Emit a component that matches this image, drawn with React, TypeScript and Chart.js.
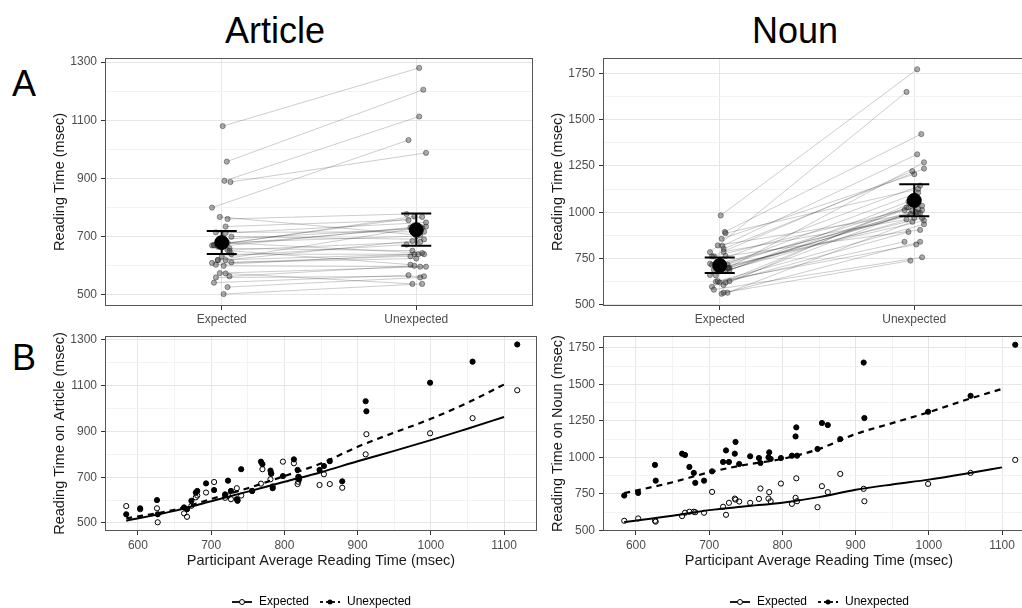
import React, { useEffect, useRef } from "react";
import { Chart, registerables } from "chart.js";

Chart.register(...registerables);

// ---------- data ----------
const conditions = ["Expected", "Unexpected"];

// participant average reading time (msec)
const avgRT = [584, 603, 626, 627, 663, 667, 673, 679, 681, 693, 704, 719, 723, 727, 735, 736, 741, 756, 768, 770, 781, 782, 784, 798, 813, 818, 819, 820, 848, 854, 862, 879, 911, 912, 999, 1057, 1118];

const articleExpected = [574, 560, 564, 503, 542, 527, 575, 612, 620, 633, 679, 610, 620, 604, 652, 600, 620, 640, 672, 735, 691, 715, 660, 768, 761, 670, 680, 700, 666, 713, 670, 654, 800, 888, 892, 958, 1080];
const articleUnexpected = [538, 564, 600, 538, 568, 560, 597, 633, 640, 673, 644, 625, 685, 640, 604, 597, 735, 640, 768, 757, 729, 717, 652, 705, 778, 732, 702, 691, 732, 749, 770, 682, 1032, 988, 1113, 1205, 1280];

const nounExpected = [566, 582, 566, 560, 598, 621, 628, 628, 625, 621, 764, 662, 607, 689, 718, 711, 698, 689, 716, 787, 718, 762, 700, 821, 682, 723, 857, 700, 659, 803, 762, 887, 785, 700, 819, 894, 983];
const nounUnexpected = [739, 757, 949, 841, 1026, 1017, 935, 894, 826, 841, 905, 969, 1048, 969, 1026, 1106, 955, 1008, 996, 962, 1001, 1035, 990, 996, 1012, 1144, 1206, 1012, 1058, 1236, 1222, 1126, 1650, 1270, 1313, 1422, 1772];

// horizontal jitter of the points in panel A (category units)
const jitterExpected = [0.02, -0.03, 0.04, 0.01, -0.04, 0.03, -0.01, 0.05, -0.02, 0.0, 0.03, -0.05, 0.02, -0.03, 0.04, 0.01, -0.02, 0.05, -0.04, 0.02, 0.0, -0.03, 0.04, -0.01, 0.03, -0.05, 0.01, 0.05, -0.02, 0.02, -0.04, 0.03, -0.05, 0.045, 0.014, 0.026, 0.005];
const jitterUnexpected = [-0.02, 0.04, -0.01, 0.03, -0.04, 0.02, 0.05, -0.03, 0.01, -0.05, 0.03, 0.0, -0.02, 0.04, -0.03, 0.02, 0.05, -0.01, 0.03, -0.04, 0.01, 0.04, -0.02, 0.02, -0.05, 0.03, 0.0, 0.04, -0.03, 0.05, -0.01, 0.02, -0.04, 0.05, 0.015, 0.036, 0.015];

// condition means and error bars (panel A)
const articleMean = [680, 724];
const articleLow = [641, 669];
const articleHigh = [720, 780];
const nounMean = [713, 1064];
const nounLow = [672, 978];
const nounHigh = [756, 1152];

// smoothed fits (panel B)
const fitX = [584, 650, 700, 750, 800, 850, 900, 950, 1000, 1050, 1100];
const articleFitExpected = [510, 553, 595, 637, 680, 722, 770, 815, 862, 912, 963];
const articleFitUnexpected = [520, 558, 605, 652, 705, 760, 833, 895, 955, 1025, 1105];
const nounFitExpected = [557, 600, 639, 665, 690, 728, 778, 815, 848, 888, 932];
const nounFitUnexpected = [755, 830, 898, 950, 990, 1058, 1160, 1235, 1310, 1393, 1470];

// ticks and axis limits
const articleYTicks = [500, 700, 900, 1100, 1300];
const nounYTicks = [500, 750, 1000, 1250, 1500, 1750];
const avgRTTicks = [600, 700, 800, 900, 1000, 1100];
const articleARange = [462, 1314];
const nounARange = [494, 1833];
const articleBRange = [465, 1317];
const nounBRange = [496, 1832];
const avgRTRange = [555, 1145];
const categoryRange = [-0.6, 1.6];

// ---------- styling ----------
const FONT = "'Liberation Sans', Arial, Helvetica, sans-serif";
const TICK_COLOR = "#4d4d4d";
const TITLE_COLOR = "#1a1a1a";
const GRID_MAJOR = "#e6e6e6";
const GRID_MINOR = "#f3f3f3";
const YW = 58;

function withMinor(majors: number[], range: number[]) {
  const step = majors[1] - majors[0];
  const vals: number[] = [];
  majors.forEach((m) => vals.push(m - step / 2, m));
  vals.push(majors[majors.length - 1] + step / 2);
  return vals.filter((v) => v >= range[0] && v <= range[1]);
}

function numScale(axis: "x" | "y", range: number[], majors: number[], title: string | null, opts: any) {
  const all = withMinor(majors, range);
  const isMajor = (v: any) => majors.includes(v);
  return {
    type: "linear",
    min: range[0],
    max: range[1],
    bounds: "data",
    afterBuildTicks: (s: any) => {
      s.ticks = all.map((v) => ({ value: v }));
    },
    afterFit: (s: any) => {
      if (axis === "y") s.width = YW;
      else s.height = opts.height;
    },
    ticks: {
      autoSkip: false,
      maxRotation: 0,
      padding: opts.tickPad,
      color: TICK_COLOR,
      font: { size: 12, family: FONT },
      callback: (v: any) => (isMajor(v) ? String(v) : ""),
    },
    grid: {
      color: (c: any) => (c.tick && isMajor(c.tick.value) ? GRID_MAJOR : GRID_MINOR),
      lineWidth: 1,
      tickLength: 4,
      tickWidth: 1,
      tickColor: (c: any) => (c.tick && isMajor(c.tick.value) ? "#333333" : "rgba(0,0,0,0)"),
    },
    border: { display: false },
    title: title
      ? {
          display: true,
          text: title,
          color: TITLE_COLOR,
          font: { size: 14.5, family: FONT },
          padding: opts.titlePad || { top: 4, bottom: 4 },
        }
      : { display: false },
  };
}

function categoryScale() {
  return {
    type: "linear",
    min: categoryRange[0],
    max: categoryRange[1],
    bounds: "data",
    afterBuildTicks: (s: any) => {
      s.ticks = conditions.map((_, i) => ({ value: i }));
    },
    afterFit: (s: any) => {
      s.height = 24;
    },
    ticks: {
      autoSkip: false,
      maxRotation: 0,
      padding: 2,
      color: TICK_COLOR,
      font: { size: 12, family: FONT },
      callback: (v: any) => conditions[Math.round(v)] ?? "",
    },
    grid: { color: GRID_MAJOR, lineWidth: 1, tickLength: 4, tickWidth: 1, tickColor: "#333333" },
    border: { display: false },
  };
}

const borderPlugin = {
  id: "panelBorder",
  afterDraw(chart: any) {
    const { ctx, chartArea: a } = chart;
    ctx.save();
    ctx.strokeStyle = "#555555";
    ctx.lineWidth = 1;
    ctx.strokeRect(Math.round(a.left) + 0.5, Math.round(a.top) + 0.5, Math.round(a.right - a.left) - 1, Math.round(a.bottom - a.top) - 1);
    ctx.restore();
  },
};

function errorBarPlugin(low: number[], high: number[]) {
  return {
    id: "errorBars",
    afterDatasetsDraw(chart: any) {
      const { ctx } = chart;
      const x = chart.scales.x;
      const y = chart.scales.y;
      ctx.save();
      ctx.strokeStyle = "#000";
      ctx.lineWidth = 2;
      low.forEach((lo, i) => {
        const px = x.getPixelForValue(i);
        const top = y.getPixelForValue(high[i]);
        const bot = y.getPixelForValue(lo);
        ctx.beginPath();
        ctx.moveTo(px, top);
        ctx.lineTo(px, bot);
        ctx.moveTo(px - 15, top);
        ctx.lineTo(px + 15, top);
        ctx.moveTo(px - 15, bot);
        ctx.lineTo(px + 15, bot);
        ctx.stroke();
      });
      ctx.restore();
    },
  };
}

function pairedConfig(exp: number[], unexp: number[], mean: number[], low: number[], high: number[], yRange: number[], yTicks: number[]) {
  const lines = exp.map((e, i) => ({
    type: "scatter",
    showLine: true,
    data: [
      { x: 0 + jitterExpected[i], y: e },
      { x: 1 + jitterUnexpected[i], y: unexp[i] },
    ],
    borderColor: "rgba(0,0,0,0.2)",
    borderWidth: 1,
    pointRadius: 2.6,
    pointBackgroundColor: "rgba(60,60,60,0.42)",
    pointBorderColor: "rgba(40,40,40,0.45)",
    pointBorderWidth: 1,
    order: 1,
  }));
  const means = {
    type: "scatter",
    data: mean.map((m, i) => ({ x: i, y: m })),
    pointRadius: 7,
    pointBackgroundColor: "#000",
    pointBorderColor: "#000",
    order: 0,
  };
  return {
    type: "scatter",
    data: { datasets: [...lines, means] },
    options: {
      animation: false,
      responsive: false,
      devicePixelRatio: 1,
      events: [],
      layout: { padding: { top: 12, right: 6, left: 0, bottom: 0 } },
      plugins: { legend: { display: false }, tooltip: { enabled: false } },
      scales: {
        x: categoryScale(),
        y: numScale("y", yRange, yTicks, "Reading Time (msec)", { tickPad: 4 }),
      },
    },
    plugins: [borderPlugin, errorBarPlugin(low, high)],
  };
}

function makeKey(dashed: boolean, filled: boolean) {
  const c = document.createElement("canvas");
  c.width = 22;
  c.height = 10;
  const ctx = c.getContext("2d")!;
  ctx.strokeStyle = "#000";
  ctx.lineWidth = 1.8;
  if (dashed) ctx.setLineDash([3, 3]);
  ctx.beginPath();
  ctx.moveTo(1, 5);
  ctx.lineTo(21, 5);
  ctx.stroke();
  ctx.setLineDash([]);
  ctx.beginPath();
  ctx.arc(11, 5, 2.5, 0, Math.PI * 2);
  if (filled) {
    ctx.fillStyle = "#000";
    ctx.fill();
  } else {
    ctx.fillStyle = "#fff";
    ctx.fill();
    ctx.lineWidth = 1;
    ctx.stroke();
  }
  return c;
}

function regressionConfig(exp: number[], unexp: number[], fitE: number[], fitU: number[], yRange: number[], yTicks: number[], yTitle: string) {
  const keys = [makeKey(false, false), makeKey(true, true)];
  return {
    type: "scatter",
    data: {
      datasets: [
        {
          type: "line",
          label: "fitExpected",
          data: fitX.map((x, i) => ({ x, y: fitE[i] })),
          borderColor: "#000",
          borderWidth: 2,
          pointRadius: 0,
          fill: false,
          cubicInterpolationMode: "monotone",
          order: 0,
        },
        {
          type: "line",
          label: "fitUnexpected",
          data: fitX.map((x, i) => ({ x, y: fitU[i] })),
          borderColor: "#000",
          borderWidth: 2.2,
          borderDash: [6, 5],
          pointRadius: 0,
          fill: false,
          cubicInterpolationMode: "monotone",
          order: 0,
        },
        {
          type: "scatter",
          label: conditions[0],
          data: avgRT.map((x, i) => ({ x, y: exp[i] })),
          pointRadius: 2.6,
          pointBorderWidth: 1,
          pointBorderColor: "#000",
          pointBackgroundColor: "rgba(0,0,0,0)",
          order: 1,
        },
        {
          type: "scatter",
          label: conditions[1],
          data: avgRT.map((x, i) => ({ x, y: unexp[i] })),
          pointRadius: 2.6,
          pointBorderWidth: 1,
          pointBorderColor: "#000",
          pointBackgroundColor: "#000",
          order: 1,
        },
      ],
    },
    options: {
      animation: false,
      responsive: false,
      devicePixelRatio: 1,
      events: [],
      layout: { padding: { top: 12, right: 6, left: 0, bottom: 0 } },
      plugins: {
        tooltip: { enabled: false },
        legend: {
          display: true,
          position: "bottom",
          fullSize: false,
          labels: {
            usePointStyle: true,
            pointStyleWidth: 22,
            padding: 10,
            color: TITLE_COLOR,
            font: { size: 12, family: FONT },
            generateLabels: () =>
              conditions.map((t, i) => ({
                text: t,
                pointStyle: keys[i],
                fillStyle: "#000",
                strokeStyle: "#000",
                lineWidth: 0,
                hidden: false,
                datasetIndex: i + 2,
              })),
          },
        },
      },
      scales: {
        x: numScale("x", avgRTRange, avgRTTicks, "Participant Average Reading Time (msec)", {
          tickPad: 3,
          height: 55,
          titlePad: { top: 4, bottom: 16 },
        }),
        y: numScale("y", yRange, yTicks, yTitle, { tickPad: 4 }),
      },
    },
    plugins: [borderPlugin],
  };
}

const bigText: any = {
  position: "absolute",
  fontSize: 36,
  lineHeight: "36px",
  color: "#000",
  whiteSpace: "nowrap",
};

export default function App() {
  const aArt = useRef<HTMLCanvasElement>(null);
  const aNoun = useRef<HTMLCanvasElement>(null);
  const bArt = useRef<HTMLCanvasElement>(null);
  const bNoun = useRef<HTMLCanvasElement>(null);

  useEffect(() => {
    Chart.defaults.font.family = FONT;
    const charts = [
      new Chart(aArt.current as any, pairedConfig(articleExpected, articleUnexpected, articleMean, articleLow, articleHigh, articleARange, articleYTicks) as any),
      new Chart(aNoun.current as any, pairedConfig(nounExpected, nounUnexpected, nounMean, nounLow, nounHigh, nounARange, nounYTicks) as any),
      new Chart(bArt.current as any, regressionConfig(articleExpected, articleUnexpected, articleFitExpected, articleFitUnexpected, articleBRange, articleYTicks, "Reading Time on Article (msec)") as any),
      new Chart(bNoun.current as any, regressionConfig(nounExpected, nounUnexpected, nounFitExpected, nounFitUnexpected, nounBRange, nounYTicks, "Reading Time on Noun (msec)") as any),
    ];
    return () => charts.forEach((c) => c.destroy());
  }, []);

  const canvasStyle = (left: number, top: number, w: number, h: number): any => ({
    position: "absolute",
    left,
    top,
    width: w,
    height: h,
  });

  return (
    <div
      style={{
        position: "fixed",
        left: 0,
        top: 0,
        width: 1022,
        height: 608,
        overflow: "hidden",
        background: "#fff",
        fontFamily: FONT,
      }}
    >
      <div style={{ ...bigText, left: 175, width: 200, top: 13, textAlign: "center" }}>Article</div>
      <div style={{ ...bigText, left: 695, width: 200, top: 13, textAlign: "center" }}>Noun</div>
      <div style={{ ...bigText, left: 12, top: 66 }}>A</div>
      <div style={{ ...bigText, left: 12, top: 340 }}>B</div>
      <canvas ref={aArt} width={494} height={284} style={canvasStyle(47, 46, 494, 284)} />
      <canvas ref={aNoun} width={494} height={284} style={canvasStyle(545, 46, 494, 284)} />
      <canvas ref={bArt} width={496} height={294} style={canvasStyle(47, 324, 496, 294)} />
      <canvas ref={bNoun} width={496} height={294} style={canvasStyle(545, 324, 496, 294)} />
    </div>
  );
}
